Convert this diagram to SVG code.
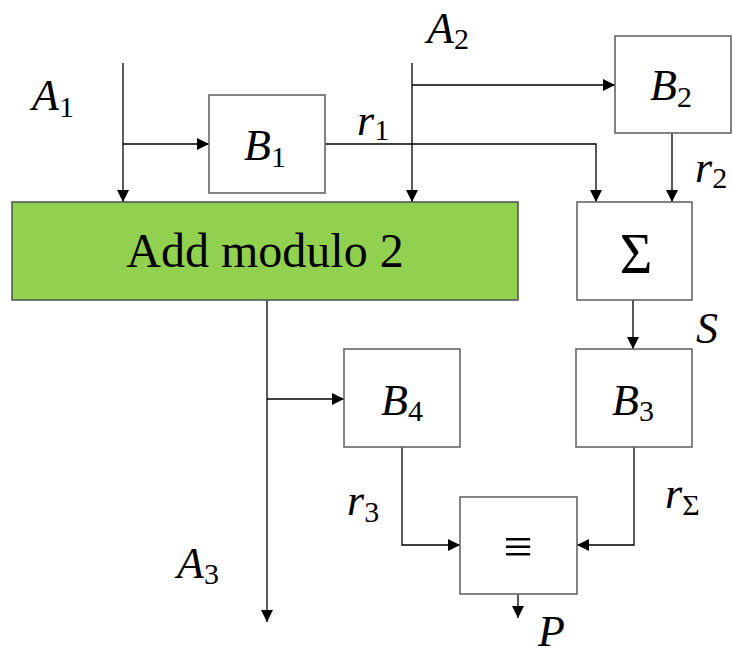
<svg xmlns="http://www.w3.org/2000/svg" width="733" height="657" viewBox="0 0 733 657">
<style>
.box{fill:#fff;stroke:#666;stroke-width:1.6}
.green{fill:#92D050;stroke:#555;stroke-width:1.6}
.ln{fill:none;stroke:#000;stroke-width:1.3}
.t{font-style:italic;font-size:44px;fill:#000}
.s{font-style:normal;font-size:30px}
.u{fill:#000}
</style>
<defs>
<marker id="ar" markerUnits="userSpaceOnUse" markerWidth="12" markerHeight="12" refX="10" refY="5" orient="auto" viewBox="0 0 10 10">
<path d="M0,0 L10,5 L0,10 z" fill="#000"/>
</marker>
</defs>
<rect width="733" height="657" fill="#fff"/>
<g id="connectors">
<path class="ln" d="M123,63 V202" marker-end="url(#ar)"/>
<path class="ln" d="M123,144 H209" marker-end="url(#ar)"/>
<path class="ln" d="M412,63 V202" marker-end="url(#ar)"/>
<path class="ln" d="M412,85 H615" marker-end="url(#ar)"/>
<path class="ln" d="M325,144 H596 V202" marker-end="url(#ar)"/>
<path class="ln" d="M672,133 V202" marker-end="url(#ar)"/>
<path class="ln" d="M633,300 V349" marker-end="url(#ar)"/>
<path class="ln" d="M267,300 V622" marker-end="url(#ar)"/>
<path class="ln" d="M267,399 H344" marker-end="url(#ar)"/>
<path class="ln" d="M402,447 V545 H460" marker-end="url(#ar)"/>
<path class="ln" d="M634,447 V545 H577" marker-end="url(#ar)"/>
<path class="ln" d="M518,594 V618" marker-end="url(#ar)"/>
</g>
<g font-family="Liberation Serif, Times New Roman, serif">
<g id="add">
<rect class="green" x="12" y="202" width="506" height="98"/>
<text class="u" x="265" y="267" font-size="48" text-anchor="middle">Add modulo 2</text>
</g>
<g id="B1">
<rect class="box" x="209" y="95" width="116" height="98"/>
<text class="t" x="244" y="160">B<tspan class="s" dy="7">1</tspan></text>
</g>
<g id="B2">
<rect class="box" x="615" y="36" width="116" height="97"/>
<text class="t" x="650" y="100">B<tspan class="s" dy="7">2</tspan></text>
</g>
<g id="sum">
<rect class="box" x="577" y="202" width="115" height="98"/>
<text class="u" x="636" y="273" font-size="56" text-anchor="middle">Σ</text>
</g>
<g id="B3">
<rect class="box" x="576" y="349" width="116" height="98"/>
<text class="t" x="612" y="415">B<tspan class="s" dy="6">3</tspan></text>
</g>
<g id="B4">
<rect class="box" x="344" y="349" width="116" height="98"/>
<text class="t" x="381" y="415">B<tspan class="s" dy="6">4</tspan></text>
</g>
<g id="equiv">
<rect class="box" x="460" y="497" width="117" height="97"/>
<text class="u" x="518" y="564" font-size="52" text-anchor="middle">≡</text>
</g>
<g id="labels">
<text class="t" x="32" y="110">A<tspan class="s" dy="7">1</tspan></text>
<text class="t" x="427" y="43">A<tspan class="s" dy="6">2</tspan></text>
<text class="t" x="357" y="135">r<tspan class="s" dy="5">1</tspan></text>
<text class="t" x="695" y="182">r<tspan class="s" dy="6">2</tspan></text>
<text class="t" x="696" y="343">S</text>
<text class="t" x="347" y="515">r<tspan class="s" dy="7">3</tspan></text>
<text class="t" x="665" y="508">r<tspan class="s" dy="7">Σ</tspan></text>
<text class="t" x="177" y="578">A<tspan class="s" dy="6">3</tspan></text>
<text class="t" x="538" y="646">P</text>
</g>
</g>
</svg>
